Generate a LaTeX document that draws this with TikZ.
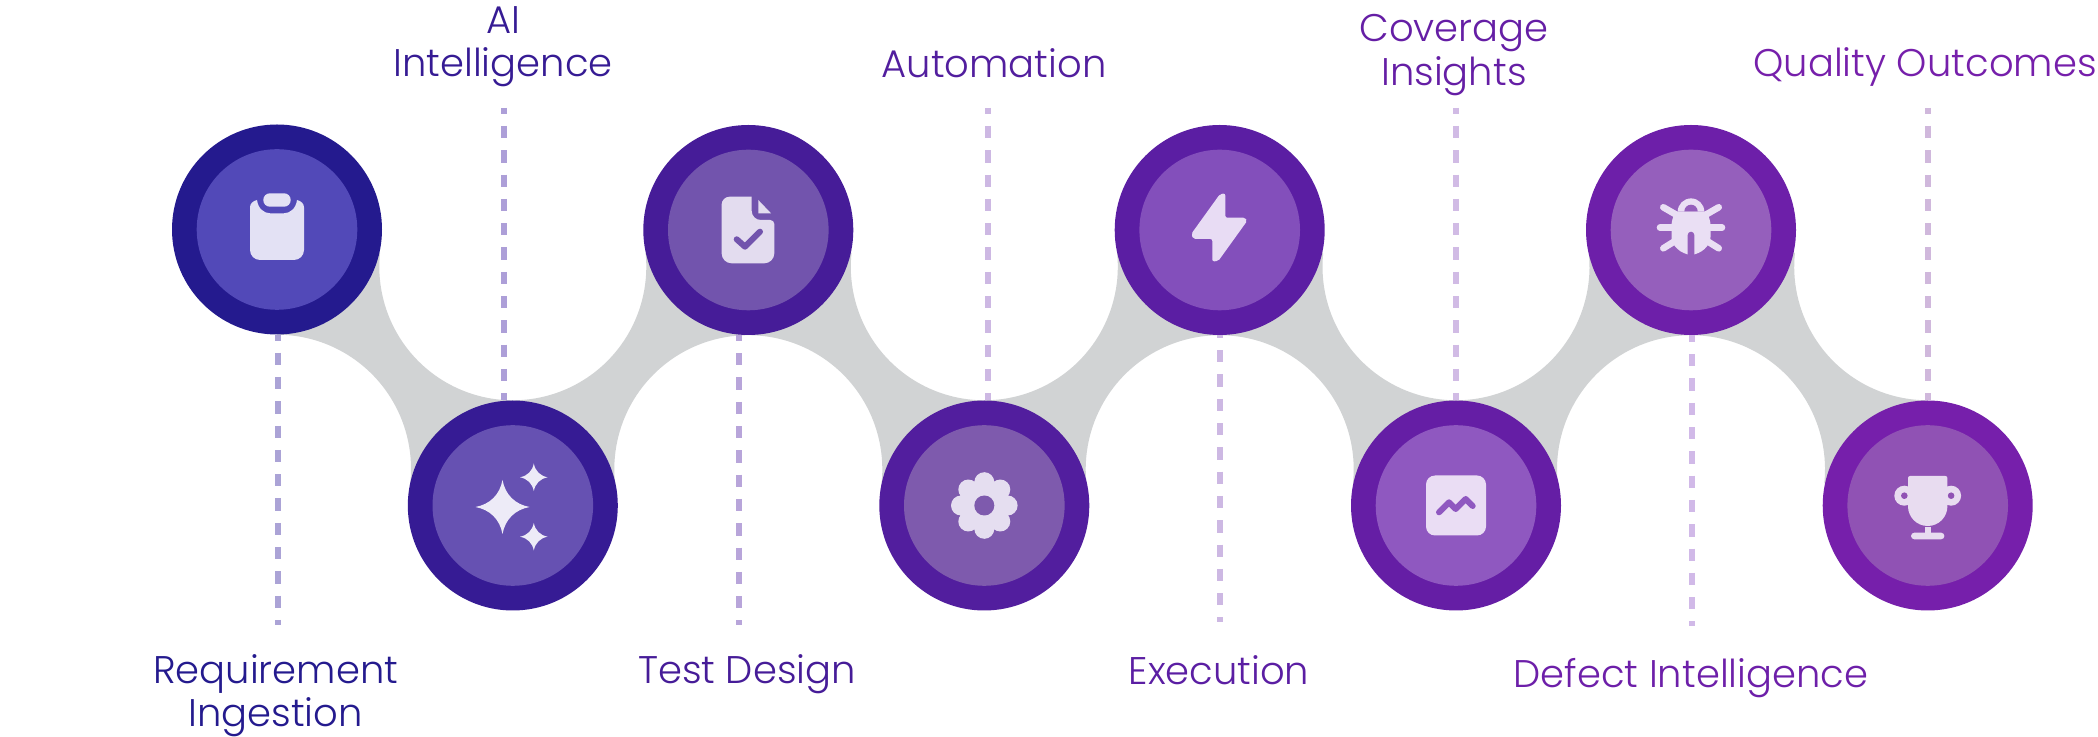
\documentclass[tikz,border=0pt]{standalone}
\usepackage{fontspec}
\setmainfont{Poppins Light}
\usetikzlibrary{backgrounds}
\definecolor{ringA}{HTML}{241A8E}\definecolor{ringB}{HTML}{361B94}\definecolor{ringC}{HTML}{461C98}\definecolor{ringD}{HTML}{521E9E}
\definecolor{ringE}{HTML}{5B1EA3}\definecolor{ringF}{HTML}{651EA5}\definecolor{ringG}{HTML}{6D1FA9}\definecolor{ringH}{HTML}{761FAB}
\definecolor{coreA}{HTML}{5249B8}\definecolor{coreB}{HTML}{6651B2}\definecolor{coreC}{HTML}{7254AD}\definecolor{coreD}{HTML}{7E5AAD}
\definecolor{coreE}{HTML}{834FBB}\definecolor{coreF}{HTML}{8F58C0}\definecolor{coreG}{HTML}{955FBC}\definecolor{coreH}{HTML}{9052B4}
\definecolor{icoA}{HTML}{E3E1F4}\definecolor{icoB}{HTML}{EDEBF7}\definecolor{icoC}{HTML}{E3DCEF}\definecolor{icoD}{HTML}{E5DEF0}
\definecolor{icoE}{HTML}{E8DCF4}\definecolor{icoF}{HTML}{EADDF4}\definecolor{icoG}{HTML}{EADFF4}\definecolor{icoH}{HTML}{E8DCF0}
\definecolor{dashA}{HTML}{ABA3D6}\definecolor{dashB}{HTML}{AD9FD8}\definecolor{dashC}{HTML}{B8A5DA}\definecolor{dashD}{HTML}{CDB8E3}
\definecolor{dashE}{HTML}{CDB8E3}\definecolor{dashF}{HTML}{D1BBE5}\definecolor{dashG}{HTML}{D1B9E8}\definecolor{dashH}{HTML}{D0B8DC}
\definecolor{bandgray}{HTML}{D1D3D4}
\tikzset{
  ring/.style={circle,inner sep=0pt,minimum size=210pt,fill=#1},
  core/.style={circle,inner sep=0pt,minimum size=160.6pt,fill=#1},
  guide/.style={line width=6pt,draw=#1,dash pattern=on 12.3pt off 12pt},
  lab/.style={text=#1,align=center,font=\fontsize{38.5}{43.5}\selectfont,inner sep=0pt},
  ribbon/.style={fill=bandgray},
  cut/.style={line width=6pt,line cap=round,line join=round,draw=#1}
}
\newcommand{\bandDown}[2]{%
  \fill[ribbon] (#1.south) arc[start angle=90,end angle=-6,radius=134pt] -- (#2.center) -- (#2.north)
    arc[start angle=270,end angle=174,radius=133.5pt] -- (#1.center) -- cycle;}
\newcommand{\bandUp}[2]{%
  \fill[ribbon] (#1.north) arc[start angle=270,end angle=366,radius=133.5pt] -- (#2.center) -- (#2.south)
    arc[start angle=90,end angle=186,radius=134pt] -- (#1.center) -- cycle;}
\newcommand{\sparkle}[3]{%
  ({#1},{#2+#3}) .. controls ({#1+.1*#3},{#2+.46*#3}) and ({#1+.46*#3},{#2+.1*#3}) .. ({#1+#3},{#2})
  .. controls ({#1+.46*#3},{#2-.1*#3}) and ({#1+.1*#3},{#2-.46*#3}) .. ({#1},{#2-#3})
  .. controls ({#1-.1*#3},{#2-.46*#3}) and ({#1-.46*#3},{#2-.1*#3}) .. ({#1-#3},{#2})
  .. controls ({#1-.46*#3},{#2+.1*#3}) and ({#1-.1*#3},{#2+.46*#3}) .. ({#1},{#2+#3}) -- cycle}
\begin{document}
\begin{tikzpicture}[x=1pt,y=1pt]
\useasboundingbox (0,0) rectangle (2098,736);
% nodes
\node[ring=ringA] (n1) at (277,506.5) {};
\node[ring=ringB] (n2) at (512.8,230.5) {};
\node[ring=ringC] (n3) at (748.3,506) {};
\node[ring=ringD] (n4) at (984.3,230.5) {};
\node[ring=ringE] (n5) at (1219.7,506) {};
\node[ring=ringF] (n6) at (1456,230.5) {};
\node[ring=ringG] (n7) at (1691,506) {};
\node[ring=ringH] (n8) at (1927.7,230.5) {};
\node[core=coreA] (c1) at (n1) {};
\node[core=coreB] (c2) at (n2) {};
\node[core=coreC] (c3) at (n3) {};
\node[core=coreD] (c4) at (n4) {};
\node[core=coreE] (c5) at (n5) {};
\node[core=coreF] (c6) at (n6) {};
\node[core=coreG] (c7) at (n7) {};
\node[core=coreH] (c8) at (n8) {};
% ribbon
\begin{scope}[on background layer]
\fill[white] (0,0) rectangle (2098,736);
\bandDown{n1}{n2}\bandUp{n2}{n3}\bandDown{n3}{n4}\bandUp{n4}{n5}\bandDown{n5}{n6}\bandUp{n6}{n7}\bandDown{n7}{n8}
\end{scope}
% guide ends
\coordinate (e1) at (278,111);
\coordinate (e3) at (739.3,111);
\coordinate (e5) at (1220,114);
\coordinate (e7) at (1692,110);
\coordinate (s2) at (504,628);
\coordinate (s4) at (988,628);
\coordinate (s6) at (1456,628);
\coordinate (s8) at (1928,628);
\draw[guide=dashA,dash phase=6.3pt] (n1.south -| e1) -- (e1);
\draw[guide=dashC,dash phase=6.3pt] (n3.south -| e3) -- (e3);
\draw[guide=dashE,dash phase=9.3pt] (n5.south -| e5) -- (e5);
\draw[guide=dashG,dash phase=5.3pt] (n7.south -| e7) -- (e7);
\draw[guide=dashB,dash phase=6.3pt] (s2) -- (s2 |- n2.north);
\draw[guide=dashD,dash phase=6.3pt] (s4) -- (s4 |- n4.north);
\draw[guide=dashF,dash phase=6.3pt] (s6) -- (s6 |- n6.north);
\draw[guide=dashH,dash phase=6.3pt] (s8) -- (s8 |- n8.north);
% icons
\begin{scope}[shift={(n1.center)}]
\fill[icoA] (-20,29.5) .. controls (-24,28.5) and (-27,26) .. (-27,22) -- (-27,-20.5) arc[start angle=180,end angle=270,radius=10] -- (17,-30.5) arc[start angle=270,end angle=360,radius=10] -- (27,22) .. controls (27,26) and (24,28.5) .. (20,29.5) .. controls (19,21) and (13,16.2) .. (7,16.2) -- (-7,16.2) .. controls (-13,16.2) and (-19,21) .. (-20,29.5) -- cycle;
\fill[icoA,rounded corners=6.6pt] (-13.7,22.8) rectangle (13.7,36.2);
\end{scope}
\begin{scope}[shift={(n2.center)}]
\fill[icoB] \sparkle{-10.3}{-1.5}{27} \sparkle{21}{28.2}{13.8} \sparkle{21}{-31.2}{13.8};
\end{scope}
\begin{scope}[shift={(n3.center)}]
\fill[icoC] (-18.7,33.3) -- (3.4,33.3) -- (3.4,19) arc[start angle=180,end angle=270,radius=9] -- (22,10) arc[start angle=90,end angle=0,radius=4] -- (26,-23.3) arc[start angle=0,end angle=-90,radius=10] -- (-16.7,-33.3) arc[start angle=270,end angle=180,radius=10] -- (-26.7,25.3) arc[start angle=180,end angle=90,radius=8] -- cycle;
\fill[icoC] (10,30) -- (22.7,16.7) -- (10,16.7) -- cycle;
\draw[cut=coreC] (-11.6,-9.3) -- (-3.3,-16.7) -- (11.7,-1.7);
\end{scope}
\begin{scope}[shift={(n4.center)}]
\fill[icoD] (0,0) circle[radius=26];
\foreach \a in {0,90,180,270} \fill[icoD] (\a:23.3) circle[radius=10];
\foreach \a in {45,135,225,315} \fill[icoD] (\a:22.6) circle[radius=10];
\fill[coreD] (0,0) circle[radius=10];
\end{scope}
\begin{scope}[shift={(n5.center)}]
\fill[icoE,rounded corners=2pt] (5.6,36.5) -- (5.6,12.3) -- (25.6,12.3) -- (27.6,9.3) -- (-1.4,-31) -- (-7.4,-31.5) -- (-7.4,-9) -- (-26.4,-9) -- (-28.5,-4) -- (0.3,36) -- cycle;
\end{scope}
\begin{scope}[shift={(n6.center)}]
\fill[icoF,rounded corners=9pt] (-30,-30) rectangle (30,30);
\draw[cut=coreF] (-17,-6.8) -- (-7,3.2) -- (-0.3,-3.5) -- (9.7,6.5) -- (16.7,-0.5);
\end{scope}
\begin{scope}[shift={(n7.center)}]
\draw[cut=icoG,line width=6.6pt] (-31,2.3) -- (31,2.3);
\draw[cut=icoG,line width=6.6pt] (-27.7,22.7) -- (-14.3,15);
\draw[cut=icoG,line width=6.6pt] (27.7,22.7) -- (14.3,15);
\draw[cut=icoG,line width=6.6pt] (-27.7,-18.3) -- (-16,-11);
\draw[cut=icoG,line width=6.6pt] (27.7,-18.3) -- (16,-11);
\fill[icoG] (-13.3,18.3) arc[start angle=180,end angle=0,radius=13.3] -- cycle;
\fill[icoG] (-15,18.3) -- (15,18.3) .. controls (18,14) and (19.5,9) .. (19.5,4) -- (19.5,-7) .. controls (19.5,-16) and (10,-24) .. (0,-25) .. controls (-10,-24) and (-19.5,-16) .. (-19.5,-7) -- (-19.5,4) .. controls (-19.5,9) and (-18,14) .. (-15,18.3) -- cycle;
\fill[coreG] (-6.7,18.6) arc[start angle=180,end angle=0,radius=6.7] -- cycle;
\fill[coreG] (-3.3,-26) -- (-3.3,-5) arc[start angle=180,end angle=0,radius=3.3] -- (3.3,-26) -- cycle;
\end{scope}
\begin{scope}[shift={(n8.center)}]
\fill[icoH] (-23.4,9.8) circle[radius=10];
\fill[icoH] (23.4,9.8) circle[radius=10];
\fill[coreH] (-23.4,9.8) circle[radius=3.3];
\fill[coreH] (23.4,9.8) circle[radius=3.3];
\fill[icoH] (-17.7,29.5) -- (17.7,29.5) arc[start angle=90,end angle=0,radius=2] -- (19.7,-0.8) arc[start angle=0,end angle=-180,radius=19.7] -- (-19.7,27.5) arc[start angle=180,end angle=90,radius=2] -- cycle;
\fill[icoH] (-3,-22) rectangle (3,-30);
\fill[icoH,rounded corners=3.3pt] (-16.7,-33.8) rectangle (16.7,-27.2);
\end{scope}
% labels
\node[lab=ringA] (l1) at (275.6,40.5) {Requirement\\Ingestion};
\node[lab=ringB] (l2) at (503,689.5) {AI\\Intelligence};
\node[lab=ringC] (l3) at (747,62) {Test Design};
\node[lab=ringD] (l4) at (994,673) {Automation};
\node[lab=ringE] (l5) at (1219,66) {Execution};
\node[lab=ringF] (l6) at (1454,681) {Coverage\\Insights};
\node[lab=ringG] (l7) at (1691,58) {Defect Intelligence};
\node[lab=ringH] (l8) at (1925,669) {Quality Outcomes};
\end{tikzpicture}
\end{document}
